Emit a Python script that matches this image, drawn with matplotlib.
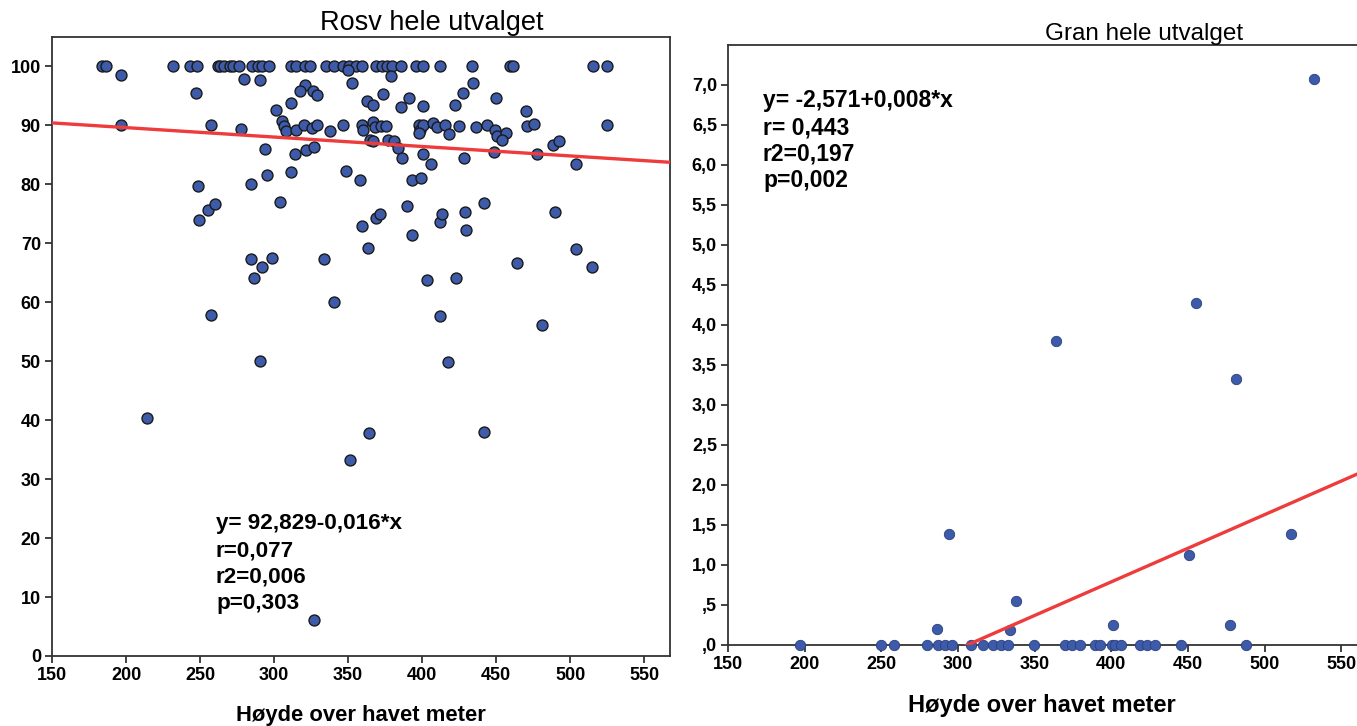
import matplotlib
matplotlib.use("Agg")
import matplotlib.pyplot as plt
import numpy as np

plt.rcParams["font.family"] = ["Liberation Sans", "DejaVu Sans"]

# Rosv: values
rosv_x = [
    # row at 100
    183.5, 186.4, 231.7, 242.9, 247.8, 262.0, 263.6, 266.5, 270.0, 272.6, 276.6, 285.2,
    288.9, 291.9, 296.8, 311.4, 314.8, 321.0, 324.0, 335.4, 340.6, 346.6, 350.7, 355.2,
    359.2, 368.7, 372.7, 376.5, 379.8, 385.5, 395.6, 400.7, 412.4, 433.7, 459.1, 461.3,
    515.7, 525.1,
    # 92-99
    196.3, 280.0, 290.5, 247.4, 350.2, 352.5, 321.0, 317.7, 326.4, 329.3, 311.4, 301.3,
    362.6, 366.8, 373.6, 378.8, 434.4, 427.6, 391.1, 385.9, 400.7, 422.5, 450.1, 470.3,
    # row near 90
    196.3, 257.5, 277.7, 305.4, 306.4, 308.0, 314.8, 320.4, 325.6, 329.3, 337.7, 346.6,
    359.2, 360.1, 366.8, 368.2, 372.0, 375.8, 364.6, 377.1, 397.8, 398.5, 400.7, 407.4,
    410.1, 415.8, 418.0, 424.7, 436.7, 443.8, 449.5, 450.5, 456.9, 470.8, 475.3, 525.1,
    397.8,
    # 83-88
    294.0, 314.0, 321.8, 327.0, 367.0, 381.1, 383.5, 386.3, 400.4, 405.9, 428.3, 448.3,
    454.1, 477.7, 488.3, 492.5, 504.3,
    # 79-83
    248.6, 284.6, 295.2, 311.7, 348.6, 358.1, 392.9, 399.5,
    # 71-77
    249.3, 255.2, 259.9, 303.9, 359.2, 368.9, 371.3, 390.0, 392.9, 411.8, 413.6, 429.0,
    429.9, 441.9, 489.5,
    # 56-70
    363.5, 504.3, 284.6, 298.7, 292.2, 286.5, 333.6, 464.3, 514.6, 403.5, 422.8, 340.6,
    257.5, 411.8, 481.2,
    # below 55
    290.7, 417.4, 214.5, 364.3, 351.3, 441.6, 326.8,
]
rosv_y = (
    [100] * 38
    + [98.5, 97.9, 97.7, 95.5, 99.4, 97.2, 96.8, 95.9, 95.8, 95.1, 93.8, 92.7,
       94.2, 93.4, 95.4, 98.4, 97.2, 95.5, 94.6, 93.2, 93.3, 93.4, 94.6, 92.4]
    + [90.0, 90.0, 89.4, 90.7, 89.9, 89.0, 89.2, 90.0, 89.6, 90.0, 89.0, 90.0,
       90.0, 89.3, 90.6, 89.8, 89.9, 89.9, 87.6, 87.6, 90.0, 89.3, 90.0, 90.4,
       89.7, 90.0, 88.6, 89.9, 89.8, 90.0, 89.3, 88.2, 88.7, 89.9, 90.2, 90.0,
       88.7]
    + [86.0, 85.1, 85.8, 86.4, 87.4, 87.3, 86.2, 84.5, 85.1, 83.5, 84.5, 85.5,
       87.6, 85.1, 86.6, 87.3, 83.5]
    + [79.8, 80.0, 81.6, 82.1, 82.3, 80.7, 80.8, 81.1]
    + [74.0, 75.6, 76.7, 77.0, 72.9, 74.3, 75.0, 76.4, 71.4, 73.6, 74.9, 75.3,
       72.2, 76.8, 75.3]
    + [69.2, 69.0, 67.3, 67.5, 66.0, 64.1, 67.3, 66.6, 66.0, 63.8, 64.1, 60.0,
       57.9, 57.6, 56.2]
    + [50.0, 49.9, 40.4, 37.8, 33.3, 38.0, 6.1]
)

# Gran: values
gran_x = [
    197.0, 249.8, 258.6, 279.6, 287.1, 291.5, 295.8, 308.8, 316.4, 322.9, 328.4, 332.7,
    349.8, 370.0, 374.4, 379.8, 389.6, 392.8, 400.5, 402.6, 406.4, 419.0, 423.3, 428.7,
    445.5, 488.1,
    286.1, 333.9, 337.9, 401.1, 477.7, 294.0, 364.0, 455.0, 481.5, 451.0, 517.0, 532.0,
]
gran_y = [0.0] * 26 + [0.20, 0.19, 0.55, 0.25, 0.25, 1.39, 3.80, 4.28, 3.33, 1.12, 1.39, 7.08]

rosv_a, rosv_b = 92.829, -0.016
gran_a, gran_b = -2.571, 0.0084

rosv_stats = ["y= 92,829-0,016*x", "r=0,077", "r2=0,006", "p=0,303"]
gran_stats = ["y= -2,571+0,008*x", "r= 0,443", "r2=0,197", "p=0,002"]

W, H = 1357, 726
fig = plt.figure(figsize=(W / 100, H / 100), dpi=100)

def box(x0, y0, x1, y1):
    # pixel box -> figure fraction rect
    return [x0 / W, 1 - y1 / H, (x1 - x0) / W, (y1 - y0) / H]

dot = "#3E5BA9"
red = "#EE3B3B"

# ---- left panel
ax1 = fig.add_axes(box(52, 37, 670, 656))
ax1.scatter(rosv_x, rosv_y, s=62, c=dot, edgecolors="#1a1a1a", linewidths=1.0,
            zorder=3, clip_on=False)
xs = np.array([150, 567.5])
ax1.plot(xs, rosv_a + rosv_b * xs, color=red, lw=2.4, zorder=4)
ax1.set_xlim(150, 567.5)
ax1.set_ylim(0, 105)
ax1.set_xticks(range(150, 551, 50))
ax1.set_yticks(range(0, 101, 10))
ax1.set_title("Rosv hele utvalget", fontsize=19.5, x=0.615, pad=5)
ax1.set_xlabel("Høyde over havet meter", fontsize=15.8, fontweight="bold", labelpad=15)
for i, s in enumerate(rosv_stats):
    fig.text(216 / W, 1 - (524 + 26.5 * i) / H, s, fontsize=16.2, fontweight="bold",
             va="center", ha="left")

# ---- right panel (runs past the right edge, as in the reference)
ax2 = fig.add_axes(box(728, 45, 728 + 418 * 1.533, 645))
ax2.scatter(gran_x, gran_y, s=56, c=dot, edgecolors="#2b3f7e", linewidths=0.6,
            zorder=3, clip_on=False)
xs2 = np.array([150, 568])
ax2.plot(xs2, gran_a + gran_b * xs2, color=red, lw=2.4, zorder=4)
ax2.set_xlim(150, 568)
ax2.set_ylim(0, 7.5)
ax2.set_xticks(range(150, 551, 50))
yt = np.arange(0, 7.01, 0.5)
ax2.set_yticks(yt)
ax2.set_yticklabels([("%.1f" % v).replace(".", ",").lstrip("0") for v in yt])
ax2.set_title("Gran hele utvalget", fontsize=17.5, x=0.649, pad=3)
ax2.set_xlabel("Høyde over havet meter", fontsize=17, fontweight="bold", labelpad=15,
               x=0.49)
for i, s in enumerate(gran_stats):
    fig.text(763 / W, 1 - (101 + 26.5 * i) / H, s, fontsize=16.5, fontweight="bold",
             va="center", ha="left")

for ax in (ax1, ax2):
    for sp in ax.spines.values():
        sp.set_color("#333333")
        sp.set_linewidth(1.3)
    ax.tick_params(direction="out", length=5, width=1.3, color="#333333",
                   labelsize=13, pad=3)
    for lab in ax.get_xticklabels() + ax.get_yticklabels():
        lab.set_fontweight("bold")

fig.savefig("out.png", dpi=100)
